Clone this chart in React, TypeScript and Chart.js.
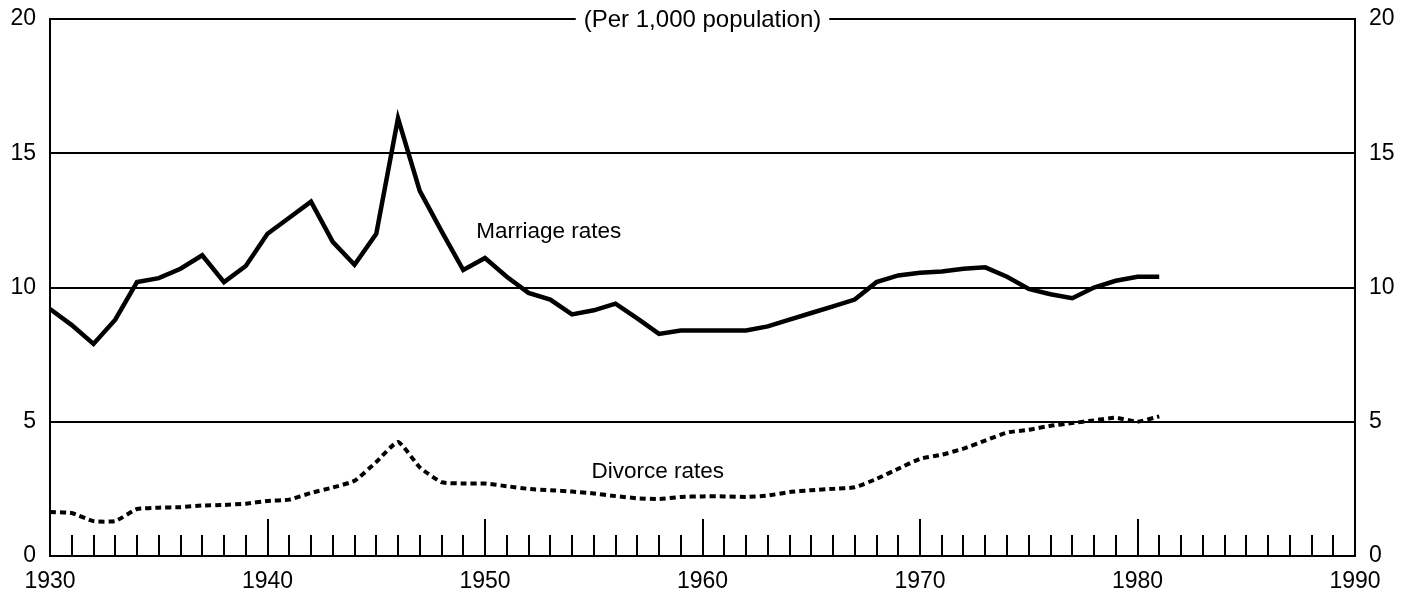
import React, { useEffect, useRef } from "react";
import { Chart, registerables } from "chart.js";

Chart.register(...registerables);

const years = [
  1930, 1931, 1932, 1933, 1934, 1935, 1936, 1937, 1938, 1939,
  1940, 1941, 1942, 1943, 1944, 1945, 1946, 1947, 1948, 1949,
  1950, 1951, 1952, 1953, 1954, 1955, 1956, 1957, 1958, 1959,
  1960, 1961, 1962, 1963, 1964, 1965, 1966, 1967, 1968, 1969,
  1970, 1971, 1972, 1973, 1974, 1975, 1976, 1977, 1978, 1979,
  1980, 1981,
];

const marriageRates = [
  9.2, 8.6, 7.9, 8.8, 10.2, 10.35, 10.7, 11.2, 10.2, 10.8,
  12.0, 12.6, 13.2, 11.7, 10.85, 12.0, 16.3, 13.6, 12.1, 10.65,
  11.1, 10.4, 9.8, 9.55, 9.0, 9.15, 9.4, 8.85, 8.27, 8.4,
  8.4, 8.4, 8.4, 8.55, 8.8, 9.05, 9.3, 9.55, 10.2, 10.45,
  10.55, 10.6, 10.7, 10.75, 10.4, 9.95, 9.75, 9.6, 10.0, 10.25,
  10.4, 10.4,
];

const divorceRates = [
  1.64, 1.6, 1.3, 1.3, 1.75, 1.8, 1.82, 1.88, 1.9, 1.95,
  2.05, 2.1, 2.35, 2.55, 2.8, 3.5, 4.25, 3.3, 2.75, 2.7,
  2.7, 2.6, 2.5, 2.45, 2.4, 2.33, 2.23, 2.15, 2.12, 2.2,
  2.22, 2.22, 2.2, 2.25, 2.38, 2.45, 2.5, 2.56, 2.87, 3.25,
  3.62, 3.77, 4.0, 4.3, 4.6, 4.7, 4.85, 4.95, 5.05, 5.15,
  5.0, 5.2,
];

const xTickLabels = ["1930", "1940", "1950", "1960", "1970", "1980", "1990"];
const yTickLabels = ["0", "5", "10", "15", "20"];
const minorTickYears = [
  1931, 1932, 1933, 1934, 1935, 1936, 1937, 1938, 1939,
  1941, 1942, 1943, 1944, 1945, 1946, 1947, 1948, 1949,
  1951, 1952, 1953, 1954, 1955, 1956, 1957, 1958, 1959,
  1961, 1962, 1963, 1964, 1965, 1966, 1967, 1968, 1969,
  1971, 1972, 1973, 1974, 1975, 1976, 1977, 1978, 1979,
  1981, 1982, 1983, 1984, 1985, 1986, 1987, 1988, 1989,
];
const majorTickYears = [1940, 1950, 1960, 1970, 1980];

const titleText = "(Per 1,000 population)";
const FONT = "'Liberation Sans', Arial, Helvetica, sans-serif";

const decorPlugin = {
  id: "decor",
  beforeDatasetsDraw(chart: any) {
    const { ctx, chartArea, scales } = chart;
    const xs = scales.x;
    const ys = scales.y;
    ctx.save();
    // inner ticks
    ctx.strokeStyle = "#000";
    ctx.lineWidth = 2;
    const bottom = ys.getPixelForValue(0);
    ctx.beginPath();
    minorTickYears.forEach((yr) => {
      const px = Math.round(xs.getPixelForValue(yr));
      ctx.moveTo(px, bottom);
      ctx.lineTo(px, bottom - 21);
    });
    majorTickYears.forEach((yr) => {
      const px = Math.round(xs.getPixelForValue(yr));
      ctx.moveTo(px, bottom);
      ctx.lineTo(px, bottom - 37);
    });
    ctx.stroke();

    // title breaking the top line
    ctx.font = `24px ${FONT}`;
    const cx = (chartArea.left + chartArea.right) / 2;
    const w = ctx.measureText(titleText).width;
    ctx.fillStyle = "#fff";
    ctx.fillRect(cx - w / 2 - 8, chartArea.top - 4, w + 16, 8);
    ctx.fillStyle = "#000";
    ctx.textAlign = "center";
    ctx.textBaseline = "middle";
    ctx.fillText(titleText, cx, chartArea.top + 1);

    // series labels
    ctx.textAlign = "left";
    ctx.textBaseline = "alphabetic";
    ctx.font = `22.5px ${FONT}`;
    ctx.fillText("Marriage rates", xs.getPixelForValue(1949.6), ys.getPixelForValue(11.84));
    ctx.fillText("Divorce rates", xs.getPixelForValue(1954.9), ys.getPixelForValue(2.9));
    ctx.restore();
  },
};

const zeroPad = (s: any) => {
  s.paddingTop = 0;
  s.paddingBottom = 0;
  s.paddingLeft = 0;
  s.paddingRight = 0;
};

export default function App() {
  const ref = useRef<HTMLCanvasElement | null>(null);

  useEffect(() => {
    if (!ref.current) return;
    const chart = new Chart(ref.current, {
      type: "line",
      data: {
        datasets: [
          {
            label: "Marriage rates",
            data: years.map((y, i) => ({ x: y, y: marriageRates[i] })),
            borderColor: "#000",
            borderWidth: 4.5,
            pointRadius: 0,
            tension: 0,
            fill: false,
            borderJoinStyle: "miter",
          },
          {
            label: "Divorce rates",
            data: years.map((y, i) => ({ x: y, y: divorceRates[i] })),
            borderColor: "#000",
            borderWidth: 4,
            borderDash: [6, 4],
            pointRadius: 0,
            tension: 0.15,
            fill: false,
          },
        ],
      },
      options: {
        animation: false,
        responsive: false,
        devicePixelRatio: 1,
        layout: { padding: { top: 19, left: 0, right: 0, bottom: 0 } },
        plugins: {
          legend: { display: false },
          title: { display: false },
          tooltip: { enabled: false },
        },
        scales: {
          x: {
            type: "linear",
            min: 1930,
            max: 1990,
            afterFit: (s: any) => {
              s.height = 45;
              zeroPad(s);
            },
            afterBuildTicks: (s: any) => {
              s.ticks = xTickLabels.map((t) => ({ value: Number(t) }));
            },
            ticks: {
              color: "#000",
              font: { family: FONT, size: 23 },
              padding: 4,
              maxRotation: 0,
              autoSkip: false,
              callback: (v: any) => String(v),
            },
            grid: { display: false },
            border: { display: false },
          },
          y: {
            type: "linear",
            position: "left",
            min: 0,
            max: 20,
            afterFit: (s: any) => {
              s.width = 50;
              zeroPad(s);
            },
            afterBuildTicks: (s: any) => {
              s.ticks = yTickLabels.map((t) => ({ value: Number(t) }));
            },
            ticks: {
              color: "#000",
              font: { family: FONT, size: 23 },
              padding: 14,
              callback: (v: any) => String(v),
            },
            grid: { color: "#000", lineWidth: 2, drawTicks: false },
            border: { display: true, color: "#000", width: 2 },
          },
          y2: {
            type: "linear",
            position: "right",
            min: 0,
            max: 20,
            afterFit: (s: any) => {
              s.width = 60;
              zeroPad(s);
            },
            afterBuildTicks: (s: any) => {
              s.ticks = yTickLabels.map((t) => ({ value: Number(t) }));
            },
            ticks: {
              color: "#000",
              font: { family: FONT, size: 23 },
              padding: 14,
              callback: (v: any) => String(v),
            },
            grid: { display: false, drawTicks: false },
            border: { display: true, color: "#000", width: 2 },
          },
        },
      } as any,
      plugins: [decorPlugin],
    });
    return () => chart.destroy();
  }, []);

  return (
    <div style={{ position: "fixed", left: 0, top: 0, width: 1415, height: 601, background: "#fff" }}>
      <canvas ref={ref} width={1415} height={601} style={{ display: "block" }} />
    </div>
  );
}
